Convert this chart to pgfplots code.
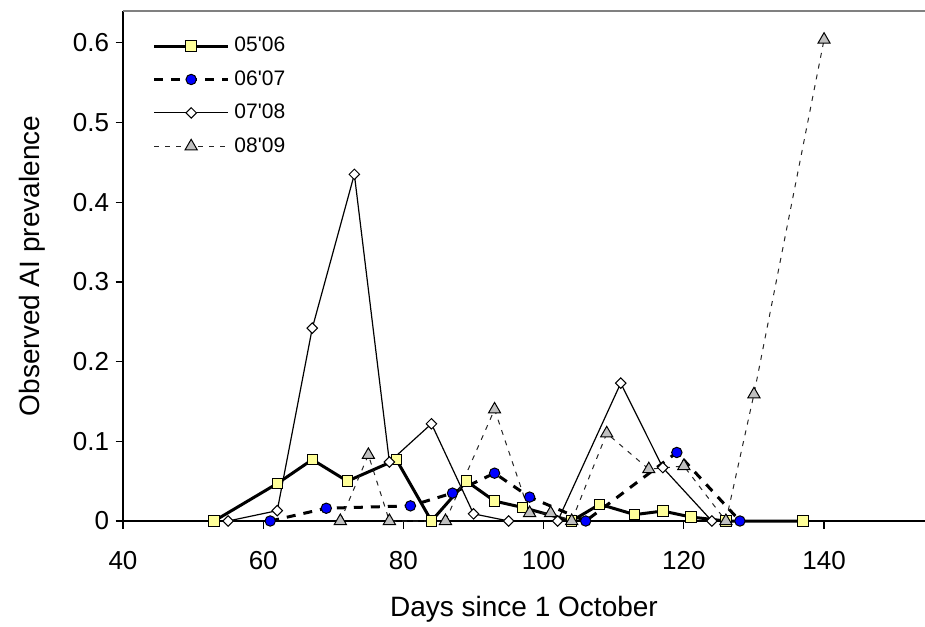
\documentclass[border=0pt]{standalone}
\usepackage{fontspec}
\setmainfont{Liberation Sans}
\usepackage{pgfplots}
\pgfplotsset{compat=1.18}
\definecolor{myyellow}{HTML}{FFFF99}
\definecolor{mygray}{HTML}{C0C0C0}
\definecolor{myblue}{HTML}{0000FF}
\begin{document}
\begin{tikzpicture}
\begin{axis}[
  at={(0,0)}, anchor=south west,
  scale only axis, width=401pt, height=255pt,
  xmin=40, xmax=154.4, ymin=0, ymax=0.64,
  clip=false,
  axis x line*=bottom, axis y line*=left,
  axis line style={black, line width=0.6pt},
  xtick={40,60,80,100,120,140},
  ytick={0,0.1,0.2,0.3,0.4,0.5,0.6},
  tick align=outside, major tick length=3.75pt,
  tick style={black, line width=0.6pt},
  minor tick num=0,
  /pgf/number format/assume math mode=true,
  ticklabel style={font=\fontsize{13}{15}\selectfont},
  xticklabel style={anchor=north, inner sep=0pt, yshift=-11pt},
  yticklabel style={anchor=east, inner sep=0pt, xshift=-3pt},
  xlabel={Days since 1 October},
  ylabel={Observed AI prevalence},
  xlabel style={at={(axis description cs:0.5,-0.1875)}, anchor=base, font=\fontsize{14}{16}\selectfont},
  ylabel style={at={(axis description cs:-0.104,0.5)}, anchor=base, rotate=0, font=\fontsize{14}{16}\selectfont},
  legend cell align=left,
  legend style={draw=none, fill=none, at={(axis description cs:0.0365,0.9647)}, anchor=north west,
    inner sep=0pt, column sep=2.4pt, row sep=0pt,
    nodes={inner sep=0pt, minimum height=16.7pt, font=\fontsize{10.5}{12}\selectfont}},
  legend image code/.code={\draw[mark repeat=2,mark phase=2,#1] plot coordinates {(0pt,0pt) (18.5pt,0pt) (37pt,0pt)};},
]
\addplot[black, line width=1.5pt, mark=square*, mark size=2.6pt,
  mark options={solid, fill=myyellow, draw=black, line width=0.5pt}] coordinates {
  (53,0) (62,0.047) (67,0.077) (72,0.050) (79,0.077) (84,0) (89,0.050) (93,0.025)
  (97,0.017) (104,0) (108,0.021) (113,0.008) (117,0.0125) (121,0.005) (126,0) (137,0)};
\addlegendentry{05\textquotesingle06}
\addplot[black, line width=1.5pt, dash pattern=on 4.5pt off 4pt, mark=*, mark size=2.6pt,
  mark options={solid, fill=myblue, draw=black, line width=0.5pt}] coordinates {
  (61,0) (69,0.016) (81,0.019) (87,0.035) (93,0.060) (98,0.030) (106,0) (119,0.086) (128,0)};
\addlegendentry{06\textquotesingle07}
\addplot[black, line width=0.6pt, mark=square*, mark size=1.85pt,
  mark options={solid, fill=white, draw=black, line width=0.5pt, rotate=45}] coordinates {
  (55,0) (62,0.013) (67,0.242) (73,0.435) (78,0.074) (84,0.122) (90,0.009) (95,0)
  (102,0) (111,0.173) (117,0.067) (124,0)};
\addlegendentry{07\textquotesingle08}
\addplot[black!85, line width=0.5pt, dash pattern=on 2.5pt off 3pt, mark=triangle*, mark size=3.5pt,
  mark options={solid, fill=mygray, draw=black, line width=0.5pt}] coordinates {
  (71,0) (75,0.083) (78,0) (86,0) (93,0.140) (98,0.010) (101,0.010) (104,0)
  (109,0.110) (115,0.065) (120,0.069) (126,0) (130,0.159) (140,0.604)};
\addlegendentry{08\textquotesingle09}
\draw[gray, line width=0.6pt] (rel axis cs:0,1) -- (rel axis cs:1,1);
\end{axis}
\pgfresetboundingbox
\useasboundingbox (-61.5pt,-52.5pt) rectangle (401pt,260.5pt);
\end{tikzpicture}
\end{document}
